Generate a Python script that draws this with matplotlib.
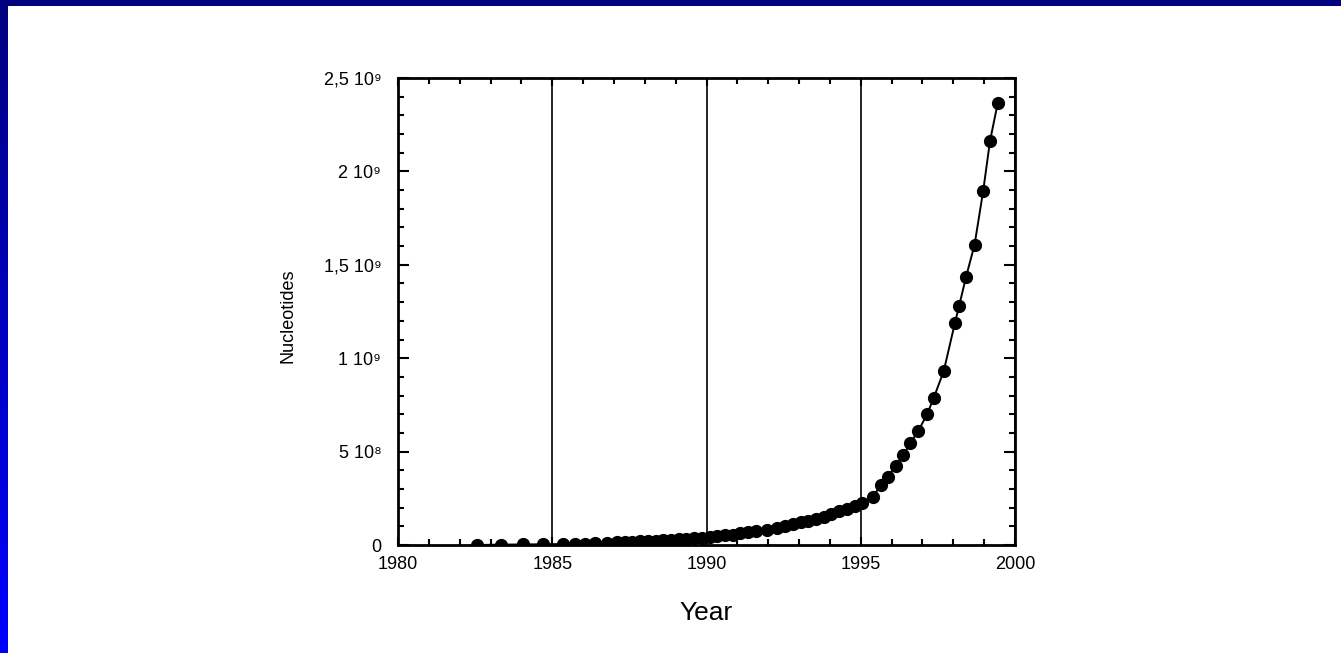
import numpy as np
import matplotlib
matplotlib.use("Agg")
import matplotlib.pyplot as plt
from matplotlib.ticker import MultipleLocator, FixedLocator, FixedFormatter
from matplotlib.colors import LinearSegmentedColormap

plt.rcParams["font.family"] = ["Liberation Sans", "DejaVu Sans"]

# sequence database size (nucleotides, x 1e9)
years = [
    1982.55, 1983.33, 1984.06, 1984.71, 1985.36, 1985.74, 1986.06, 1986.39,
    1986.77, 1987.09, 1987.35, 1987.60, 1987.85, 1988.10, 1988.35, 1988.60,
    1988.85, 1989.10, 1989.35, 1989.60, 1989.85, 1990.10, 1990.35, 1990.60,
    1990.85, 1991.10, 1991.35, 1991.60, 1991.95, 1992.30, 1992.55, 1992.80,
    1993.05, 1993.30, 1993.55, 1993.80, 1994.05, 1994.30, 1994.55, 1994.81,
    1995.05, 1995.39, 1995.66, 1995.87, 1996.14, 1996.38, 1996.60, 1996.87,
    1997.15, 1997.36, 1997.69, 1998.05, 1998.19, 1998.41, 1998.69, 1998.97,
    1999.19, 1999.44,
]
nucleotides_e9 = [
    0.000, 0.002, 0.003, 0.004, 0.005, 0.006, 0.008, 0.010,
    0.012, 0.014, 0.016, 0.018, 0.020, 0.022, 0.024, 0.026,
    0.028, 0.030, 0.032, 0.035, 0.038, 0.042, 0.046, 0.051,
    0.056, 0.062, 0.068, 0.074, 0.080, 0.090, 0.100, 0.112,
    0.122, 0.130, 0.140, 0.152, 0.165, 0.180, 0.195, 0.207,
    0.225, 0.259, 0.321, 0.366, 0.425, 0.480, 0.544, 0.612,
    0.700, 0.785, 0.931, 1.187, 1.281, 1.433, 1.608, 1.897,
    2.163, 2.365,
]

y_ticks = [0, 0.5e9, 1e9, 1.5e9, 2e9, 2.5e9]
y_tick_labels = ["0", "5 10⁸", "1 10⁹", "1,5 10⁹", "2 10⁹", "2,5 10⁹"]
x_ticks = [1980, 1985, 1990, 1995, 2000]

fig = plt.figure(figsize=(13.41, 6.53), dpi=100)
fig.patch.set_facecolor("white")

# slide frame: navy band on top, gradient band on the left
W, H = 1341, 653
top = fig.add_axes([0, 1 - 6 / H, 1, 6 / H])
top.set_facecolor("#000080")
top.set_xticks([])
top.set_yticks([])
for s in top.spines.values():
    s.set_visible(False)
left = fig.add_axes([0, 0, 8 / W, 1 - 6 / H])
grad = np.linspace(0, 1, 256).reshape(-1, 1)
cmap = LinearSegmentedColormap.from_list("frame", ["#000080", "#0000FF"])
left.imshow(grad, aspect="auto", cmap=cmap, origin="upper")
left.set_axis_off()

ax = fig.add_axes([398 / W, (653 - 545) / H, 617 / W, 467 / H])
y = np.array(nucleotides_e9) * 1e9
ax.plot(years, y, color="black", lw=1.4, marker="o", ms=8.5,
        markerfacecolor="black", markeredgecolor="black")

ax.set_xlim(1980, 2000)
ax.set_ylim(0, 2.5e9)
ax.xaxis.set_major_locator(FixedLocator(x_ticks))
ax.xaxis.set_minor_locator(MultipleLocator(1))
ax.yaxis.set_major_locator(FixedLocator(y_ticks))
ax.yaxis.set_major_formatter(FixedFormatter(y_tick_labels))
ax.yaxis.set_minor_locator(MultipleLocator(0.1e9))

ax.tick_params(which="both", direction="in", top=True, right=True,
               width=1.5, labelsize=13)
ax.tick_params(axis="y", which="major", length=8, pad=12)
ax.tick_params(axis="y", which="minor", length=4.5)
ax.tick_params(axis="x", which="major", length=6, pad=8)
ax.tick_params(axis="x", which="minor", length=4)

ax.grid(True, axis="x", which="major", color="black", lw=1.2)
for s in ax.spines.values():
    s.set_linewidth(2)

ax.set_xlabel("Year", fontsize=19)
ax.xaxis.set_label_coords(0.5, -0.12)
ax.set_ylabel("Nucleotides", fontsize=13)
ax.yaxis.set_label_coords(-0.165, 0.49)

fig.savefig("out.png", dpi=100)
